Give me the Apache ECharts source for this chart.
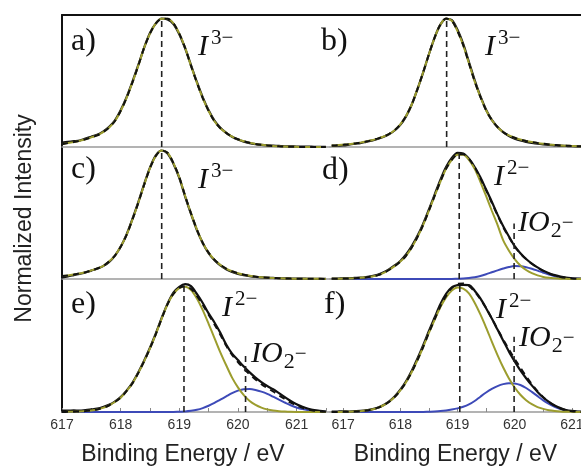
<!DOCTYPE html>
<html>
<head>
<meta charset="utf-8">
<title>I 3d XPS fits</title>
<script src="https://cdn.jsdelivr.net/npm/echarts@6.0.0/dist/echarts.min.js"></script>
<style>
html, body { margin: 0; padding: 0; background: #fff; }
#chart { width: 581px; height: 467px; }
</style>
</head>
<body>
<div id="chart"></div>
<script>
// binding energy sampling (eV), left and right column
const energyLeft = [617.0, 617.1, 617.2, 617.3, 617.4, 617.5, 617.6, 617.7, 617.8, 617.9,
    618.0, 618.1, 618.2, 618.3, 618.4, 618.5, 618.6, 618.7, 618.8, 618.9,
    619.0, 619.1, 619.2, 619.3, 619.4, 619.5, 619.6, 619.7, 619.8, 619.9,
    620.0, 620.1, 620.2, 620.3, 620.4, 620.5, 620.6, 620.7, 620.8, 620.9,
    621.0, 621.1, 621.2, 621.3, 621.4, 621.5];
const energyRight = [616.8, 616.9, 617.0, 617.1, 617.2, 617.3, 617.4, 617.5, 617.6, 617.7,
    617.8, 617.9, 618.0, 618.1, 618.2, 618.3, 618.4, 618.5, 618.6, 618.7,
    618.8, 618.9, 619.0, 619.1, 619.2, 619.3, 619.4, 619.5, 619.6, 619.7,
    619.8, 619.9, 620.0, 620.1, 620.2, 620.3, 620.4, 620.5, 620.6, 620.7,
    620.8, 620.9, 621.0, 621.1, 621.2];

// axis ticks
const tickLabels = [617, 618, 619, 620, 621];
const tickMarksLeft = [617, 617.5, 618, 618.5, 619, 619.5, 620, 620.5, 621, 621.5];
const tickMarksRight = [617, 617.5, 618, 618.5, 619, 619.5, 620, 620.5, 621];

// a) measured + fit (I3-)
const aData = [0.035, 0.04, 0.045, 0.05, 0.065, 0.08, 0.095, 0.12, 0.155, 0.205,
    0.285, 0.385, 0.505, 0.635, 0.77, 0.885, 0.96, 0.998, 0.99, 0.955,
    0.875, 0.765, 0.635, 0.505, 0.385, 0.285, 0.205, 0.15, 0.11, 0.08,
    0.058, 0.042, 0.03, 0.022, 0.016, 0.012, 0.01, 0.008, 0.006, 0.005,
    0.004, 0.003, 0.003, 0.002, 0.002, 0.002];
const aFit = [0.022, 0.03, 0.038, 0.048, 0.06, 0.075, 0.09, 0.115, 0.15, 0.2,
    0.28, 0.38, 0.5, 0.63, 0.77, 0.88, 0.96, 0.995, 0.995, 0.96,
    0.88, 0.77, 0.63, 0.5, 0.38, 0.28, 0.2, 0.145, 0.11, 0.08,
    0.06, 0.045, 0.033, 0.024, 0.017, 0.012, 0.008, 0.005, 0.003, 0.002,
    0.001, 0, 0, 0, 0, 0];

// b)
const bData = [0.008, 0.01, 0.012, 0.018, 0.025, 0.03, 0.04, 0.05, 0.062, 0.078,
    0.098, 0.128, 0.172, 0.238, 0.33, 0.45, 0.58, 0.72, 0.85, 0.95,
    0.995, 0.985, 0.91, 0.8, 0.66, 0.52, 0.395, 0.29, 0.21, 0.155,
    0.115, 0.085, 0.065, 0.05, 0.04, 0.032, 0.025, 0.02, 0.016, 0.013,
    0.01, 0.008, 0.006, 0.005, 0.004];
const bFit = [0.011, 0.014, 0.018, 0.022, 0.028, 0.034, 0.042, 0.052, 0.065, 0.08,
    0.1, 0.13, 0.175, 0.24, 0.33, 0.45, 0.58, 0.72, 0.85, 0.95,
    0.997, 0.98, 0.9, 0.79, 0.65, 0.51, 0.39, 0.285, 0.21, 0.155,
    0.115, 0.09, 0.072, 0.058, 0.047, 0.038, 0.031, 0.025, 0.02, 0.016,
    0.012, 0.01, 0.008, 0.006, 0.005];

// c)
const cData = [0.012, 0.02, 0.03, 0.04, 0.05, 0.065, 0.08, 0.1, 0.13, 0.18,
    0.25, 0.345, 0.465, 0.595, 0.735, 0.865, 0.96, 0.998, 0.975, 0.895,
    0.785, 0.64, 0.505, 0.38, 0.28, 0.2, 0.145, 0.105, 0.075, 0.055,
    0.04, 0.03, 0.022, 0.016, 0.012, 0.01, 0.008, 0.006, 0.005, 0.004,
    0.003, 0.003, 0.002, 0.002, 0.002, 0.002];
const cFit = [0.023, 0.028, 0.035, 0.043, 0.053, 0.067, 0.082, 0.1, 0.135, 0.18,
    0.25, 0.34, 0.46, 0.59, 0.73, 0.86, 0.955, 0.998, 0.98, 0.9,
    0.79, 0.645, 0.51, 0.385, 0.28, 0.205, 0.15, 0.11, 0.08, 0.06,
    0.045, 0.033, 0.025, 0.018, 0.013, 0.01, 0.008, 0.006, 0.004, 0.003,
    0.002, 0.002, 0.001, 0.001, 0.001, 0];

// d) I2- and IO2- components
const dData = [0.004, 0.003, 0.005, 0.006, 0.008, 0.01, 0.015, 0.022, 0.032, 0.05,
    0.075, 0.105, 0.14, 0.19, 0.255, 0.335, 0.43, 0.54, 0.655, 0.77,
    0.87, 0.94, 0.98, 0.975, 0.935, 0.87, 0.79, 0.695, 0.6, 0.5,
    0.41, 0.33, 0.255, 0.2, 0.155, 0.12, 0.09, 0.065, 0.045, 0.03,
    0.018, 0.01, 0.006, 0.003, 0.002];
const dI = [0.002, 0.002, 0.003, 0.004, 0.006, 0.009, 0.013, 0.019, 0.028, 0.045,
    0.07, 0.1, 0.135, 0.18, 0.245, 0.325, 0.42, 0.53, 0.645, 0.755,
    0.855, 0.925, 0.965, 0.965, 0.925, 0.855, 0.755, 0.645, 0.53, 0.42,
    0.3, 0.22, 0.155, 0.105, 0.07, 0.045, 0.028, 0.016, 0.009, 0.005,
    0.002, 0.001, 0, 0, 0];
const dIO = [0, 0, 0, 0, 0, 0, 0, 0, 0, 0,
    0, 0, 0, 0, 0, 0, 0, 0, 0, 0,
    0, 0, 0.002, 0.004, 0.008, 0.014, 0.024, 0.037, 0.052, 0.067,
    0.081, 0.093, 0.1, 0.099, 0.092, 0.08, 0.065, 0.049, 0.034, 0.022,
    0.013, 0.007, 0.003, 0.001, 0];
const dEnv = [0.002, 0.002, 0.003, 0.004, 0.006, 0.009, 0.013, 0.019, 0.028, 0.045,
    0.07, 0.1, 0.135, 0.18, 0.245, 0.325, 0.42, 0.53, 0.645, 0.755,
    0.855, 0.925, 0.967, 0.969, 0.933, 0.869, 0.781, 0.69, 0.592, 0.495,
    0.402, 0.325, 0.252, 0.198, 0.155, 0.118, 0.088, 0.063, 0.043, 0.028,
    0.016, 0.009, 0.004, 0.001, 0];

// e)
const eData = [0.01, 0.01, 0.012, 0.01, 0.015, 0.02, 0.026, 0.038, 0.055, 0.08,
    0.115, 0.165, 0.225, 0.305, 0.395, 0.495, 0.605, 0.725, 0.835, 0.92,
    0.965, 0.985, 0.97, 0.91, 0.84, 0.76, 0.69, 0.61, 0.52, 0.45,
    0.4, 0.35, 0.305, 0.265, 0.23, 0.2, 0.175, 0.145, 0.115, 0.085,
    0.06, 0.04, 0.025, 0.014, 0.008, 0.004];
const eI = [0, 0.001, 0.002, 0.004, 0.007, 0.012, 0.02, 0.032, 0.05, 0.077,
    0.11, 0.16, 0.22, 0.3, 0.39, 0.49, 0.6, 0.72, 0.83, 0.91,
    0.955, 0.966, 0.94, 0.875, 0.785, 0.68, 0.57, 0.46, 0.36, 0.265,
    0.19, 0.13, 0.085, 0.055, 0.034, 0.02, 0.011, 0.006, 0.003, 0.001,
    0, 0, 0, 0, 0, 0];
const eIO = [0, 0, 0, 0, 0, 0, 0, 0, 0, 0,
    0, 0, 0, 0, 0, 0, 0, 0, 0, 0,
    0.002, 0.004, 0.009, 0.017, 0.03, 0.048, 0.07, 0.095, 0.12, 0.145,
    0.165, 0.176, 0.177, 0.17, 0.157, 0.14, 0.118, 0.095, 0.073, 0.052,
    0.035, 0.022, 0.013, 0.007, 0.003, 0.001];
const eEnv = [0, 0.001, 0.002, 0.004, 0.007, 0.012, 0.02, 0.032, 0.05, 0.077,
    0.11, 0.16, 0.22, 0.3, 0.39, 0.49, 0.6, 0.72, 0.83, 0.91,
    0.957, 0.97, 0.949, 0.895, 0.825, 0.75, 0.675, 0.595, 0.51, 0.44,
    0.385, 0.335, 0.29, 0.25, 0.215, 0.185, 0.158, 0.128, 0.1, 0.072,
    0.05, 0.032, 0.018, 0.009, 0.004, 0.002];

// f)
const fData = [0.003, 0.004, 0.005, 0.004, 0.006, 0.008, 0.012, 0.02, 0.033, 0.052,
    0.08, 0.12, 0.172, 0.237, 0.318, 0.412, 0.515, 0.625, 0.728, 0.83,
    0.91, 0.96, 0.978, 0.98, 0.978, 0.935, 0.875, 0.8, 0.72, 0.635,
    0.55, 0.465, 0.39, 0.32, 0.26, 0.205, 0.155, 0.112, 0.078, 0.05,
    0.03, 0.015, 0.008, 0.004, 0.002];
const fI = [0, 0, 0.001, 0.002, 0.003, 0.006, 0.011, 0.019, 0.032, 0.05,
    0.077, 0.115, 0.166, 0.229, 0.308, 0.4, 0.501, 0.609, 0.71, 0.807,
    0.883, 0.937, 0.96, 0.95, 0.914, 0.842, 0.752, 0.651, 0.543, 0.439,
    0.343, 0.259, 0.189, 0.133, 0.091, 0.06, 0.038, 0.024, 0.014, 0.008,
    0.004, 0.002, 0.001, 0, 0];
const fIO = [0, 0, 0, 0, 0, 0, 0, 0, 0, 0,
    0, 0, 0, 0, 0, 0, 0, 0.002, 0.004, 0.007,
    0.012, 0.019, 0.028, 0.04, 0.058, 0.085, 0.118, 0.15, 0.178, 0.2,
    0.215, 0.222, 0.22, 0.208, 0.185, 0.155, 0.122, 0.09, 0.062, 0.04,
    0.023, 0.012, 0.005, 0.002, 0];
const fEnv = [0, 0, 0.001, 0.002, 0.003, 0.006, 0.011, 0.019, 0.032, 0.05,
    0.077, 0.115, 0.166, 0.229, 0.308, 0.4, 0.501, 0.611, 0.714, 0.814,
    0.895, 0.956, 0.988, 0.99, 0.972, 0.927, 0.87, 0.801, 0.721, 0.639,
    0.558, 0.481, 0.409, 0.341, 0.276, 0.215, 0.16, 0.114, 0.076, 0.048,
    0.027, 0.014, 0.006, 0.002, 0];

// dashed peak-position markers: [energy, height]
const aLines = [[618.70, 1.0]];
const bLines = [[618.81, 1.0]];
const cLines = [[618.70, 1.0]];
const dLines = [[619.03, 0.97], [619.99, 0.43]];
const eLines = [[619.08, 0.97], [620.13, 0.45]];
const fLines = [[619.04, 0.975], [619.99, 0.58]];

const panelLabels = ['a)', 'b)', 'c)', 'd)', 'e)', 'f)'];

const OLIVE = '#9c9d2e';
const BLUE = '#3d4ab8';
const INK = '#111';
const SEP = '#9b9b9b';
const SANS = '"Liberation Sans", Arial, sans-serif';
const SERIF = '"Liberation Serif", "Times New Roman", serif';

const cols = [
    { left: 62, width: 268, min: 617, max: 621.57, x: energyLeft, ticks: tickMarksLeft },
    { left: 330, width: 251, min: 616.77, max: 621.16, x: energyRight, ticks: tickMarksRight },
];
const rows = [
    { top: 15, height: 132 },
    { top: 147, height: 132 },
    { top: 279, height: 133 },
];

const panels = [
    { row: 0, col: 0, data: aData, olive: aFit, env: aFit, lines: aLines },
    { row: 0, col: 1, data: bData, olive: bFit, env: bFit, lines: bLines },
    { row: 1, col: 0, data: cData, olive: cFit, env: cFit, lines: cLines },
    { row: 1, col: 1, data: dData, olive: dI, blue: dIO, env: dEnv, lines: dLines },
    { row: 2, col: 0, data: eData, olive: eI, blue: eIO, env: eEnv, lines: eLines },
    { row: 2, col: 1, data: fData, olive: fI, blue: fIO, env: fEnv, lines: fLines },
];

function pairs (xs, ys) {
    return xs.map((x, i) => [x, ys[i]]);
}

function curve (gi, xs, ys, color, width, dash) {
    return {
        type: 'line',
        xAxisIndex: gi,
        yAxisIndex: gi,
        data: pairs(xs, ys),
        smooth: 0.3,
        symbol: 'none',
        silent: true,
        lineStyle: { color: color, width: width, type: dash || 'solid' },
    };
}

let grids = [];
let xAxes = [];
let yAxes = [];
let series = [];

panels.forEach((p, gi) => {
    const c = cols[p.col];
    const r = rows[p.row];
    const bottomRow = p.row === 2;
    grids.push({
        left: c.left,
        top: r.top,
        width: c.width,
        height: r.height,
        outerBoundsMode: 'none',
    });
    let xa = {
        gridIndex: gi,
        type: 'value',
        min: c.min,
        max: c.max,
        axisLine: { show: true, lineStyle: { color: SEP, width: 1.5 } },
        axisTick: {
            show: bottomRow,
            inside: true,
            length: 4,
            customValues: c.ticks,
            lineStyle: { color: '#888', width: 1 },
        },
        axisLabel: {
            show: bottomRow,
            customValues: tickLabels,
            margin: 6,
            color: '#333',
            fontSize: 14,
            fontFamily: SANS,
        },
        splitLine: { show: false },
    };
    if (bottomRow) {
        xa.name = 'Binding Energy / eV';
        xa.nameLocation = 'middle';
        xa.nameGap = 31;
        xa.nameTextStyle = {
            color: '#222',
            fontSize: 23,
            fontFamily: SANS,
            padding: p.col === 0 ? [0, 26, 0, 0] : [0, 0, 0, 0],
        };
    }
    xAxes.push(xa);

    let ya = {
        gridIndex: gi,
        type: 'value',
        min: 0,
        max: 1.025,
        axisLine: { show: p.col === 0, onZero: false, lineStyle: { color: INK, width: 2 } },
        axisTick: { show: false },
        axisLabel: { show: false },
        splitLine: { show: false },
    };
    if (gi === 2) {
        ya.name = 'Normalized Intensity';
        ya.nameLocation = 'middle';
        ya.nameGap = 26;
        ya.nameTextStyle = { color: '#222', fontSize: 23, fontFamily: SANS, padding: [0, 11, 0, 0] };
    }
    yAxes.push(ya);

    // draw order: blue component, measured, olive component, dashed envelope, markers
    if (p.blue) {
        series.push(curve(gi, c.x, p.blue, BLUE, 2));
    }
    series.push(curve(gi, c.x, p.data, INK, 2.2));
    series.push(curve(gi, c.x, p.olive, OLIVE, 2));
    series.push(curve(gi, c.x, p.env, INK, 2, [6, 5]));
    p.lines.forEach((ln) => {
        series.push({
            type: 'line',
            xAxisIndex: gi,
            yAxisIndex: gi,
            data: [[ln[0], 0], [ln[0], ln[1]]],
            symbol: 'none',
            silent: true,
            lineStyle: { color: '#222', width: 1.6, type: [6, 4] },
        });
    });
});

// black frame line over the top row
[0, 1].forEach((gi) => {
    xAxes.push({
        gridIndex: gi,
        type: 'value',
        position: 'top',
        min: cols[gi].min,
        max: cols[gi].max,
        axisLine: { show: true, onZero: false, lineStyle: { color: INK, width: 2 } },
        axisTick: { show: false },
        axisLabel: { show: false },
        splitLine: { show: false },
    });
});

// panel letters, [x, y]
const labelPos = [[71, 42], [321, 42], [71, 170], [322, 171], [71, 305], [324, 305]];

// ion labels: text, [x, y]
const ionLabels = [
    ['{i|I}{s|3−}', [198, 47]],
    ['{i|I}{s|3−}', [485, 47]],
    ['{i|I}{s|3−}', [198, 180]],
    ['{i|I}{s|2−}', [494, 177]],
    ['{i|IO}{b|2}{m|−}', [518, 223]],
    ['{i|I}{s|2−}', [222, 308]],
    ['{i|IO}{b|2}{m|−}', [251, 354]],
    ['{i|I}{s|2−}', [496, 310]],
    ['{i|IO}{b|2}{m|−}', [519, 338]],
];

let graphics = [];
panelLabels.forEach((t, i) => {
    graphics.push({
        type: 'text',
        x: labelPos[i][0],
        y: labelPos[i][1],
        silent: true,
        style: {
            text: t,
            fill: INK,
            font: '32px ' + SERIF,
            verticalAlign: 'middle',
        },
    });
});
ionLabels.forEach((l) => {
    graphics.push({
        type: 'text',
        x: l[1][0],
        y: l[1][1],
        silent: true,
        style: {
            text: l[0],
            fill: INK,
            verticalAlign: 'middle',
            rich: {
                i: { fontFamily: SERIF, fontStyle: 'italic', fontSize: 30, lineHeight: 38, fill: INK },
                s: { fontFamily: SERIF, fontSize: 21, lineHeight: 21, verticalAlign: 'top', padding: [0, 0, 0, 3], fill: INK },
                b: { fontFamily: SERIF, fontSize: 22, lineHeight: 38, verticalAlign: 'top', padding: [16, 0, 0, 1], fill: INK },
                m: { fontFamily: SERIF, fontSize: 21, lineHeight: 38, verticalAlign: 'top', padding: [9, 0, 0, 0], fill: INK },
            },
        },
    });
});

let myChart = echarts.init(document.getElementById('chart'), null, { renderer: 'canvas' });
myChart.setOption({
    animation: false,
    backgroundColor: '#fff',
    grid: grids,
    xAxis: xAxes,
    yAxis: yAxes,
    series: series,
    graphic: graphics,
});
</script>
</body>
</html>
